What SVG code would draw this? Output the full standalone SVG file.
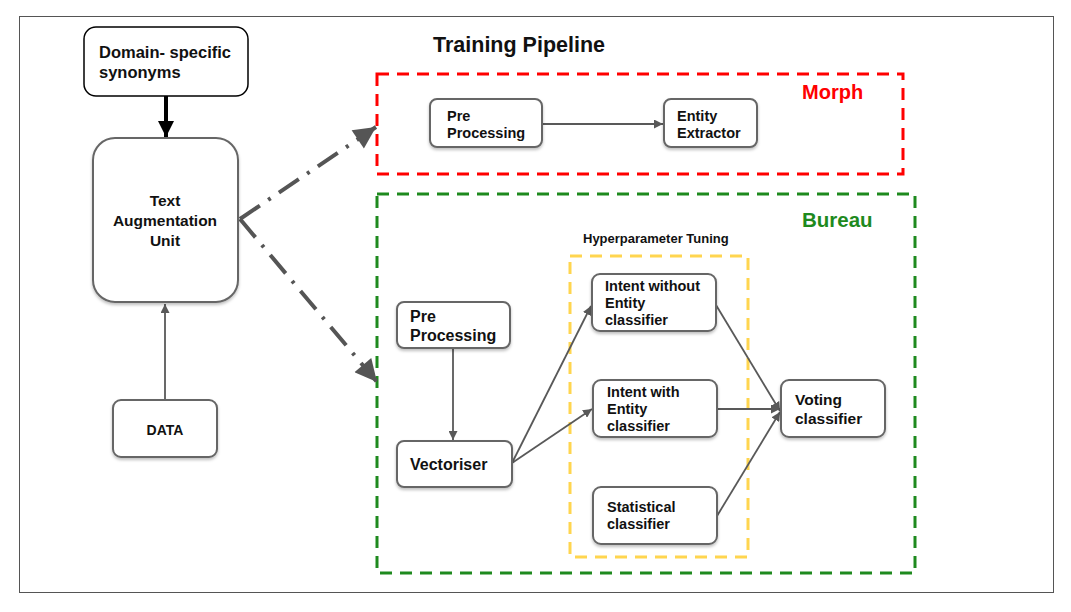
<svg xmlns="http://www.w3.org/2000/svg" width="1071" height="612" viewBox="0 0 1071 612">
<defs>
<filter id="sh" x="-20%" y="-20%" width="140%" height="150%">
<feDropShadow dx="0" dy="2" stdDeviation="1.5" flood-color="#000" flood-opacity="0.25"/>
</filter>
<marker id="ag" viewBox="0 0 10 10" refX="10" refY="5" markerWidth="5" markerHeight="5" orient="auto" markerUnits="strokeWidth">
<path d="M0,0 L10,5 L0,10 z" fill="#595959"/>
</marker>
<marker id="ab" viewBox="0 0 10 10" refX="10" refY="5" markerWidth="4.5" markerHeight="4" orient="auto" markerUnits="strokeWidth">
<path d="M0,0 L10,5 L0,10 z" fill="#000"/>
</marker>
<marker id="ad" viewBox="0 0 10 10" refX="10" refY="5" markerWidth="6.5" markerHeight="5.5" orient="auto" markerUnits="strokeWidth">
<path d="M0,0 L10,5 L0,10 z" fill="#555"/>
</marker>
</defs>
<style>
.box{fill:#fff;stroke:#666;stroke-width:2;filter:url(#sh)}
.t{font-family:"Liberation Sans",Arial,sans-serif;font-weight:bold;fill:#111}
.c{fill:none;stroke:#595959;stroke-width:1.8;marker-end:url(#ag)}
.dd{fill:none;stroke:#555;stroke-width:4;stroke-dasharray:24 10 3 10;marker-end:url(#ad)}
</style>
<rect x="19.5" y="16.5" width="1034" height="576" fill="#fff" stroke="#555" stroke-width="1"/>
<text class="t" x="433" y="52" font-size="21.5">Training Pipeline</text>

<g id="morph">
<rect x="377" y="74" width="526" height="100" fill="none" stroke="#ff0000" stroke-width="3" stroke-dasharray="12 8"/>
<text x="802" y="99" font-family="Liberation Sans,Arial,sans-serif" font-weight="bold" font-size="20" fill="#ff0000">Morph</text>
</g>
<g id="bureau">
<rect x="377" y="194" width="538" height="379" fill="none" stroke="#1e8a1e" stroke-width="3" stroke-dasharray="12 8"/>
<text x="802" y="227" font-family="Liberation Sans,Arial,sans-serif" font-weight="bold" font-size="20.5" fill="#1e8a1e">Bureau</text>
</g>
<g id="hyper">
<rect x="570" y="256" width="178" height="301" fill="none" stroke="#ffd54f" stroke-width="3" stroke-dasharray="12 8"/>
<text class="t" x="583" y="243" font-size="13">Hyperparameter Tuning</text>
</g>

<g id="connectors">
<line x1="166" y1="96" x2="166" y2="137" stroke="#000" stroke-width="4" marker-end="url(#ab)"/>
<line class="c" x1="165" y1="400" x2="165" y2="304"/>
<line class="c" x1="542" y1="124" x2="663" y2="124"/>
<line class="c" x1="453" y1="348" x2="453" y2="440"/>
<line class="c" x1="512" y1="463" x2="591" y2="306"/>
<line class="c" x1="512" y1="463" x2="592" y2="409"/>
<line class="c" x1="716" y1="305" x2="780" y2="411"/>
<line class="c" x1="717" y1="409" x2="780" y2="409"/>
<line class="c" x1="717" y1="516" x2="780" y2="412"/>
<line class="dd" x1="240" y1="219" x2="376" y2="127"/>
<line class="dd" x1="240" y1="219" x2="377" y2="382"/>
</g>

<g id="domain">
<rect x="84" y="27" width="164" height="69" rx="12" fill="#fff" stroke="#000" stroke-width="1.5"/>
<text class="t" x="99" y="58" font-size="16.5">Domain- specific</text>
<text class="t" x="99" y="78" font-size="16.5">synonyms</text>
</g>
<g id="tau">
<rect class="box" x="93" y="138" width="145" height="164" rx="22"/>
<text class="t" x="165" y="206" font-size="15.5" text-anchor="middle">Text</text>
<text class="t" x="165" y="226" font-size="15.5" text-anchor="middle">Augmentation</text>
<text class="t" x="165" y="246" font-size="15.5" text-anchor="middle">Unit</text>
</g>
<g id="data">
<rect class="box" x="113" y="400" width="104" height="57" rx="8"/>
<text class="t" x="165" y="435" font-size="14" text-anchor="middle">DATA</text>
</g>
<g id="m-pre">
<rect class="box" x="430" y="99" width="112" height="48" rx="7"/>
<text class="t" x="447" y="121" font-size="14.5">Pre</text>
<text class="t" x="447" y="138" font-size="14.5">Processing</text>
</g>
<g id="m-ent">
<rect class="box" x="664" y="99" width="93" height="48" rx="7"/>
<text class="t" x="677" y="121" font-size="14.5">Entity</text>
<text class="t" x="677" y="138" font-size="14.5">Extractor</text>
</g>
<g id="b-pre">
<rect class="box" x="397" y="302" width="113" height="46" rx="7"/>
<text class="t" x="410" y="322" font-size="16">Pre</text>
<text class="t" x="410" y="341" font-size="16">Processing</text>
</g>
<g id="vec">
<rect class="box" x="397" y="441" width="115" height="46" rx="7"/>
<text class="t" x="410" y="470" font-size="16">Vectoriser</text>
</g>
<g id="iwo">
<rect class="box" x="592" y="274" width="124" height="57" rx="8"/>
<text class="t" x="605" y="291" font-size="14.5">Intent without</text>
<text class="t" x="605" y="308" font-size="14.5">Entity</text>
<text class="t" x="605" y="325" font-size="14.5">classifier</text>
</g>
<g id="iw">
<rect class="box" x="593" y="380" width="124" height="57" rx="8"/>
<text class="t" x="607" y="397" font-size="14.5">Intent with</text>
<text class="t" x="607" y="414" font-size="14.5">Entity</text>
<text class="t" x="607" y="431" font-size="14.5">classifier</text>
</g>
<g id="stat">
<rect class="box" x="593" y="487" width="124" height="57" rx="8"/>
<text class="t" x="607" y="512" font-size="14.5">Statistical</text>
<text class="t" x="607" y="529" font-size="14.5">classifier</text>
</g>
<g id="vote">
<rect class="box" x="781" y="380" width="104" height="57" rx="8"/>
<text class="t" x="795" y="405" font-size="15.5">Voting</text>
<text class="t" x="795" y="424" font-size="15.5">classifier</text>
</g>
</svg>
